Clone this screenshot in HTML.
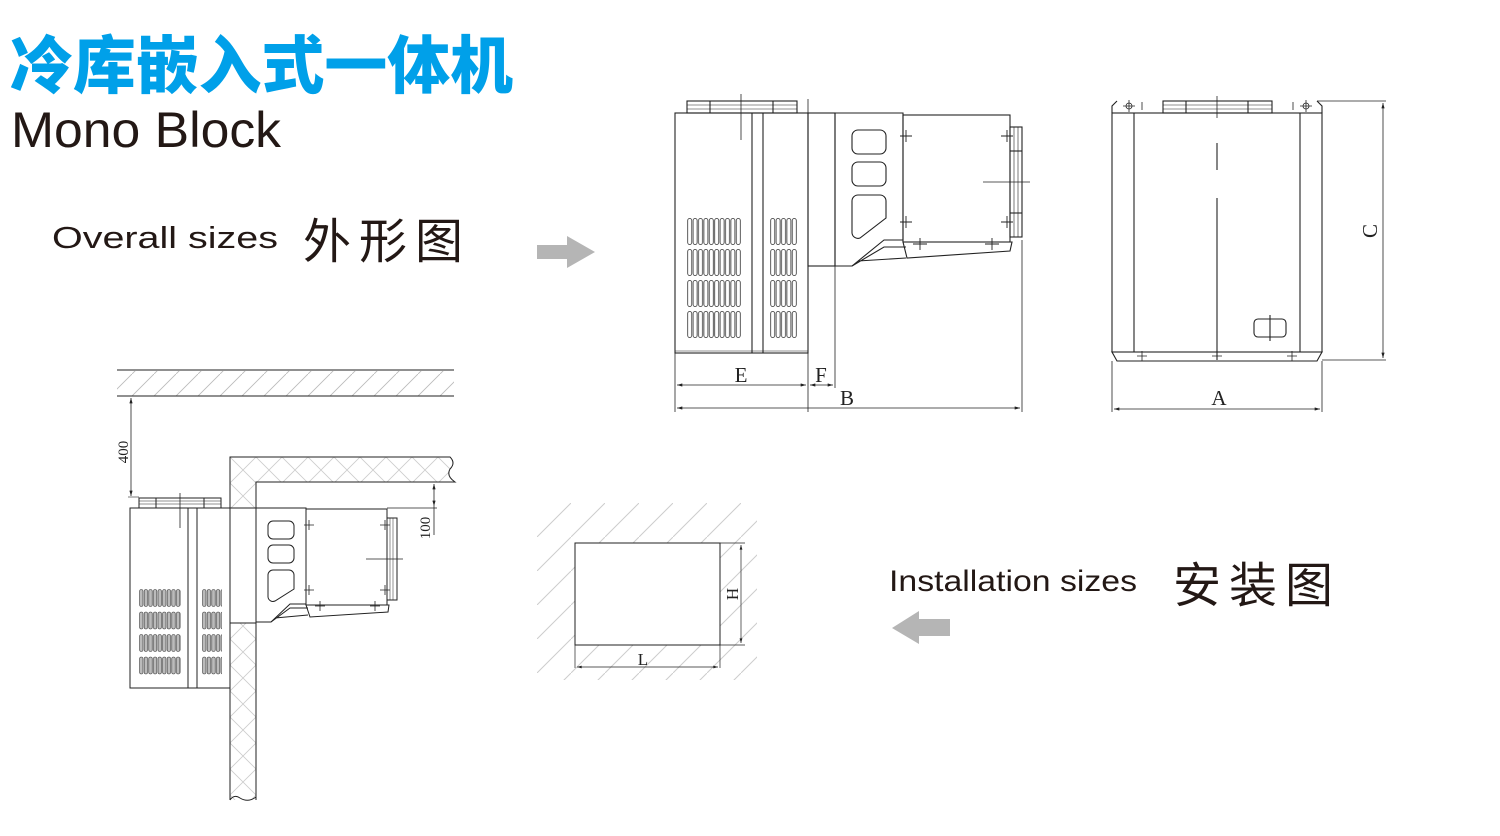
<!DOCTYPE html>
<html><head><meta charset="utf-8"><style>
html,body{margin:0;padding:0;background:#fff;}
svg{display:block;}
</style></head><body>
<svg width="1500" height="836" viewBox="0 0 1500 836" xmlns="http://www.w3.org/2000/svg">
<defs>
<pattern id="v1" patternUnits="userSpaceOnUse" x="687" y="218" width="5.4" height="31"><rect x="0.7" y="0.5" width="4" height="26" rx="2" fill="none" stroke="#333" stroke-width="0.8"/></pattern>
<pattern id="v2" patternUnits="userSpaceOnUse" x="770" y="218" width="5.4" height="31"><rect x="0.7" y="0.5" width="4" height="26" rx="2" fill="none" stroke="#333" stroke-width="0.8"/></pattern>
<pattern id="v3" patternUnits="userSpaceOnUse" x="139" y="589" width="4.6" height="22.5"><rect x="0.6" y="0.5" width="3.4" height="17" rx="1.6" fill="#bbb" stroke="#333" stroke-width="0.6"/></pattern>
<pattern id="v4" patternUnits="userSpaceOnUse" x="202" y="589" width="4.6" height="22.5"><rect x="0.6" y="0.5" width="3.4" height="17" rx="1.6" fill="#bbb" stroke="#333" stroke-width="0.6"/></pattern>
<pattern id="hd" patternUnits="userSpaceOnUse" width="22" height="22"><path d="M-2,24 L24,-2" stroke="#bbb" stroke-width="0.9"/></pattern>
<pattern id="hd2" patternUnits="userSpaceOnUse" x="537" y="503" width="34" height="34"><path d="M-2,36 L36,-2" stroke="#ccc" stroke-width="1"/></pattern>
<pattern id="hx" patternUnits="userSpaceOnUse" x="230" y="457" width="26" height="26"><path d="M0,0 L26,26 M26,0 L0,26" stroke="#ccc" stroke-width="0.8"/></pattern>
<marker id="ar" viewBox="0 0 10 6" refX="10" refY="3" markerWidth="8" markerHeight="4" orient="auto-start-reverse"><path d="M0,0 L10,3 L0,6 z" fill="#222"/></marker>
</defs>

<text x="10" y="88" font-family="'Noto Sans CJK SC',sans-serif" font-weight="900" font-size="63" fill="#00a0e9" textLength="503" lengthAdjust="spacingAndGlyphs">冷库嵌入式一体机</text>
<text x="11" y="147" font-family="'Liberation Sans',sans-serif" font-size="50" fill="#231815" textLength="270" lengthAdjust="spacingAndGlyphs">Mono Block</text>
<text x="52" y="248" font-family="'Liberation Sans',sans-serif" font-size="31" fill="#231815" textLength="226" lengthAdjust="spacingAndGlyphs">Overall sizes</text>
<text x="303" y="258" font-family="'Noto Sans CJK SC',sans-serif" font-size="48" fill="#231815" textLength="160" lengthAdjust="spacing">外形图</text>
<text x="889" y="591" font-family="'Liberation Sans',sans-serif" font-size="30" fill="#231815" textLength="248" lengthAdjust="spacingAndGlyphs">Installation sizes</text>
<text x="1173" y="602" font-family="'Noto Sans CJK SC',sans-serif" font-size="48" fill="#231815" textLength="160" lengthAdjust="spacing">安装图</text>

<polygon points="537,245 567,245 567,236 595,252 567,268 567,259 537,259" fill="#b5b5b5"/>
<polygon points="950,619 919,619 919,611 892,628 919,644 919,636 950,636" fill="#b5b5b5"/>

<g fill="none" stroke="#222" stroke-width="1.1">
<rect x="687" y="101" width="110" height="12"/>
<line x1="687" y1="105" x2="797" y2="105" stroke-width="0.6"/><line x1="687" y1="109" x2="797" y2="109" stroke-width="0.6"/>
<line x1="710" y1="101" x2="710" y2="113"/><line x1="773" y1="101" x2="773" y2="113"/>
<line x1="741" y1="94" x2="741" y2="140" stroke-width="0.8"/>
<rect x="675" y="113" width="133" height="240"/>
<line x1="675" y1="351" x2="808" y2="351" stroke-width="0.6"/>
<line x1="752" y1="113" x2="752" y2="353"/><line x1="763" y1="113" x2="763" y2="353"/>
<rect x="687" y="218" width="54" height="120" fill="url(#v1)" stroke="none"/>
<rect x="770" y="218" width="27" height="120" fill="url(#v2)" stroke="none"/>
<line x1="808" y1="99" x2="808" y2="412" stroke-width="0.8"/>
<rect x="808" y="113" width="27" height="153"/>
<polygon points="835,113 903,113 903,240 884,240 852,266 835,266"/>
<rect x="852" y="130" width="34" height="24" rx="6"/>
<rect x="852" y="162" width="34" height="24" rx="6"/>
<path d="M858,195 H880 a6,6 0 0 1 6,6 V218 L860,238 a6,6 0 0 1 -8,-5 V201 a6,6 0 0 1 6,-6 z"/>
<path d="M852,266 L884,247 L906,247 M858,261 L906,258"/>
<rect x="903" y="115" width="107" height="127"/>
<polygon points="903,242 1012,242 1010,251 907,258"/>
<rect x="1010" y="127" width="12" height="110"/>
<line x1="1014" y1="127" x2="1014" y2="237" stroke-width="0.6"/><line x1="1018" y1="127" x2="1018" y2="237" stroke-width="0.6"/>
<line x1="1010" y1="151" x2="1022" y2="151"/><line x1="1010" y1="213" x2="1022" y2="213"/>
<line x1="983" y1="182" x2="1030" y2="182" stroke-width="0.8"/>
<path d="M900,136 h12 M906,130 v12 M900,222 h12 M906,216 v12 M1001,136 h12 M1007,130 v12 M1001,222 h12 M1007,216 v12 M913,244 h14 M920,238 v12 M985,244 h14 M992,238 v12" stroke-width="0.9"/>
<line x1="1022" y1="240" x2="1022" y2="412" stroke-width="0.8"/>
<line x1="675" y1="353" x2="675" y2="412" stroke-width="0.8"/>
<line x1="835" y1="266" x2="835" y2="388" stroke-width="0.8"/>
<line x1="677" y1="385" x2="806" y2="385" marker-start="url(#ar)" marker-end="url(#ar)" stroke-width="0.8"/>
<line x1="810" y1="385" x2="833" y2="385" marker-start="url(#ar)" marker-end="url(#ar)" stroke-width="0.8"/>
<line x1="677" y1="408" x2="1020" y2="408" marker-start="url(#ar)" marker-end="url(#ar)" stroke-width="0.8"/>

<path d="M1112,113 V106 L1117,101 M1322,113 V106 L1317,101"/>
<rect x="1112" y="113" width="210" height="239"/>
<rect x="1163" y="101" width="109" height="12"/>
<line x1="1163" y1="105" x2="1272" y2="105" stroke-width="0.6"/><line x1="1163" y1="109" x2="1272" y2="109" stroke-width="0.6"/>
<line x1="1186" y1="101" x2="1186" y2="113"/><line x1="1248" y1="101" x2="1248" y2="113"/>
<line x1="1134" y1="113" x2="1134" y2="352"/><line x1="1300" y1="113" x2="1300" y2="352"/>
<line x1="1217" y1="96" x2="1217" y2="118" stroke-width="0.8"/>
<line x1="1217" y1="143" x2="1217" y2="170"/>
<line x1="1217" y1="198" x2="1217" y2="360"/>
<polygon points="1112,352 1322,352 1317,361 1117,361"/>
<rect x="1254" y="319" width="32" height="18" rx="4"/>
<line x1="1270" y1="315" x2="1270" y2="341"/>
<circle cx="1129" cy="106" r="3" stroke-width="0.8"/><circle cx="1306" cy="106" r="3" stroke-width="0.8"/>
<path d="M1123,106 h12 M1129,100 v12 M1300,106 h12 M1306,100 v12 M1142,102 v8 M1293,102 v8 M1137,356 h10 M1142,351 v10 M1212,356 h10 M1287,356 h10 M1292,351 v10" stroke-width="0.8"/>
<line x1="1317" y1="101" x2="1386" y2="101" stroke-width="0.8"/>
<line x1="1322" y1="360" x2="1386" y2="360" stroke-width="0.8"/>
<line x1="1383" y1="103" x2="1383" y2="358" marker-start="url(#ar)" marker-end="url(#ar)" stroke-width="0.8"/>
<line x1="1112" y1="361" x2="1112" y2="412" stroke-width="0.8"/>
<line x1="1322" y1="361" x2="1322" y2="412" stroke-width="0.8"/>
<line x1="1114" y1="409" x2="1320" y2="409" marker-start="url(#ar)" marker-end="url(#ar)" stroke-width="0.8"/>
</g>
<g font-family="'Liberation Serif',serif" font-size="21" fill="#222" text-anchor="middle">
<text x="741" y="382">E</text><text x="821" y="382">F</text><text x="847" y="405">B</text><text x="1219" y="405">A</text>
<text transform="translate(1377,231) rotate(-90)">C</text>
</g>

<rect x="117" y="371" width="337" height="25" fill="url(#hd)"/>
<g fill="none" stroke="#222" stroke-width="1">
<line x1="117" y1="370" x2="454" y2="370"/><line x1="117" y1="396" x2="454" y2="396"/>
</g>
<path d="M230,457 H450 Q456,463 450,469 Q446,476 455,482 H256 V800 H230 Z" fill="url(#hx)"/>
<rect x="230" y="508" width="26" height="115" fill="#fff"/>
<g fill="none" stroke="#222" stroke-width="1">
<path d="M230,508 V457 H450 Q456,463 450,469 Q446,476 455,482 H256 V508"/>
<path d="M230,623 V800 M256,623 V800 M230,800 Q234,794 240,798 Q248,803 256,797"/>
<line x1="131" y1="398" x2="131" y2="496" marker-start="url(#ar)" marker-end="url(#ar)" stroke-width="0.8"/>
<line x1="120" y1="396" x2="152" y2="396" stroke-width="0.8"/>
<rect x="139" y="498" width="82" height="10"/>
<line x1="139" y1="501" x2="221" y2="501" stroke-width="0.5"/><line x1="139" y1="504" x2="221" y2="504" stroke-width="0.5"/>
<line x1="156" y1="498" x2="156" y2="508"/><line x1="204" y1="498" x2="204" y2="508"/>
<line x1="180" y1="493" x2="180" y2="528" stroke-width="0.8"/>
<line x1="128" y1="497" x2="139" y2="497" stroke-width="0.6"/>
<rect x="130" y="508" width="100" height="180"/>
<line x1="188" y1="508" x2="188" y2="688"/><line x1="197" y1="508" x2="197" y2="688"/>
<rect x="139" y="589" width="42" height="88" fill="url(#v3)" stroke="none"/>
<rect x="202" y="589" width="20" height="88" fill="url(#v4)" stroke="none"/>
<rect x="230" y="508" width="26" height="115"/>
<polygon points="256,508 306,508 306,604 290,604 271,622 256,622"/>
<rect x="268" y="521" width="26" height="18" rx="5"/>
<rect x="268" y="545" width="26" height="18" rx="5"/>
<path d="M273,570 H289 a5,5 0 0 1 5,5 V589 L275,601 a5,5 0 0 1 -7,-4 V575 a5,5 0 0 1 5,-5 z"/>
<path d="M271,622 L290,608 L308,608 M275,618 L308,615"/>
<rect x="306" y="509" width="81" height="96"/>
<polygon points="306,605 389,605 388,612 310,617"/>
<rect x="387" y="518" width="10" height="82"/>
<line x1="390" y1="518" x2="390" y2="600" stroke-width="0.5"/><line x1="393" y1="518" x2="393" y2="600" stroke-width="0.5"/>
<line x1="366" y1="559" x2="403" y2="559" stroke-width="0.8"/>
<path d="M304,525 h10 M309,520 v10 M304,590 h10 M309,585 v10 M380,525 h10 M385,520 v10 M380,590 h10 M385,585 v10 M315,606 h10 M320,601 v10 M370,606 h10 M375,601 v10" stroke-width="0.8"/>
<line x1="387" y1="508" x2="437" y2="508" stroke-width="0.8"/>
<line x1="434" y1="484" x2="434" y2="506" marker-start="url(#ar)" marker-end="url(#ar)" stroke-width="0.8"/>
<line x1="434" y1="506" x2="434" y2="535" stroke-width="0.8"/>
</g>
<g font-family="'Liberation Serif',serif" font-size="15" fill="#222" text-anchor="middle">
<text transform="translate(128,452) rotate(-90)">400</text>
<text transform="translate(430,528) rotate(-90)">100</text>
</g>

<path d="M537,503 H757 V680 H537 Z M575,543 V645 H720 V543 Z" fill="url(#hd2)" fill-rule="evenodd"/>
<rect x="575" y="543" width="145" height="102" fill="#fff"/>
<g fill="none" stroke="#222" stroke-width="1">
<rect x="575" y="543" width="145" height="102"/>
<line x1="720" y1="543" x2="745" y2="543" stroke-width="0.7"/>
<line x1="720" y1="645" x2="745" y2="645" stroke-width="0.7"/>
<line x1="741" y1="545" x2="741" y2="643" marker-start="url(#ar)" marker-end="url(#ar)" stroke-width="0.7"/>
<line x1="575" y1="645" x2="575" y2="668" stroke-width="0.7"/>
<line x1="720" y1="645" x2="720" y2="668" stroke-width="0.7"/>
<line x1="577" y1="667" x2="718" y2="667" marker-start="url(#ar)" marker-end="url(#ar)" stroke-width="0.7"/>
</g>
<g font-family="'Liberation Serif',serif" font-size="17" fill="#222" text-anchor="middle">
<text x="643" y="665">L</text>
<text transform="translate(738,594) rotate(-90)">H</text>
</g>
</svg>
</body></html>
